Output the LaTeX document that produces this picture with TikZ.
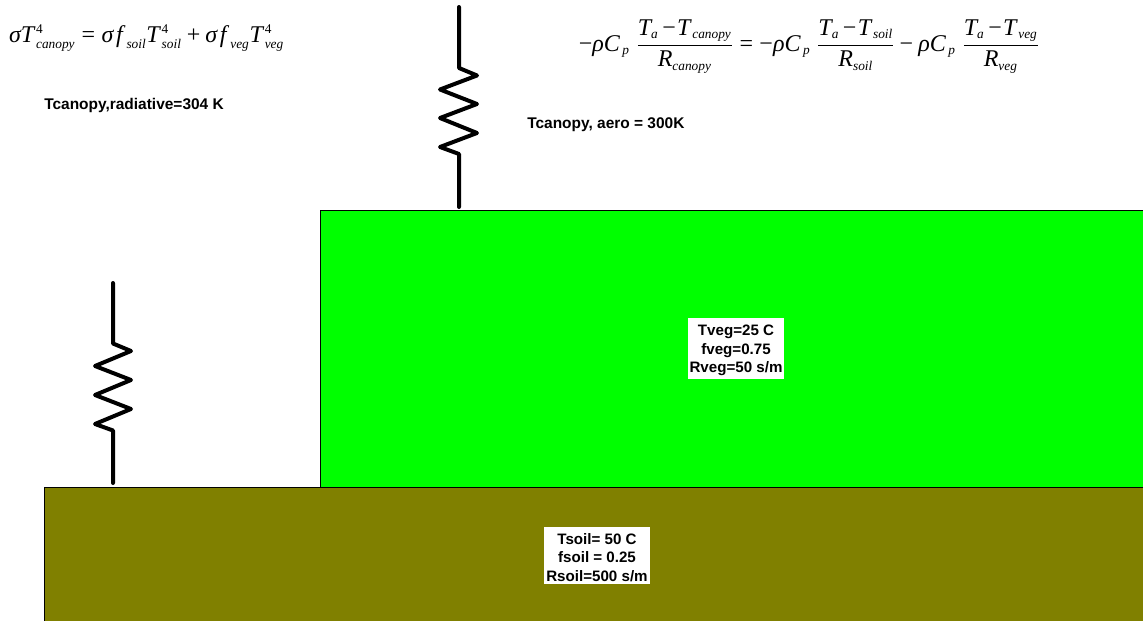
\documentclass[tikz,border=0pt]{standalone}
\usepackage{amsmath}
\usepackage{fontspec}
\setmainfont{Liberation Serif}
\newfontfamily\arialf{Liberation Sans}
\definecolor{soilolive}{RGB}{128,128,0}
\definecolor{veggreen}{RGB}{0,255,0}
\newcommand{\vv}[1]{\mbox{\itshape #1}}
\newcommand{\lo}[1]{\mbox{\fontsize{10}{10}\selectfont\itshape #1}}
\newcommand{\hi}[1]{\mbox{\fontsize{10}{10}\selectfont #1}}
\newcommand{\TT}{{\vv{T}\mkern1.5mu}}
\newcommand{\FF}{{\mkern2mu\vv{f}\mkern3mu}}
\newcommand{\CC}{{\vv{C}\mkern2mu}}
\newcommand{\mn}{\mathbin{\mbox{−}}}
\newcommand{\nm}{\mkern3mu\mbox{−}\mkern1mu}
\newcommand{\eqq}{\mathrel{\mbox{=}}}
\newcommand{\pl}{\mathbin{\mbox{+}}}
\newcommand{\fr}[2]{\mkern5mu\dfrac{#1}{#2}}
\newcommand{\topfix}{\rule{0pt}{11.1pt}}
\tikzset{
  x=0.75pt,y=-0.75pt,
  blocklabel/.style={fill=white,inner xsep=1.5pt,inner ysep=1.75pt,align=center,font=\arialf\bfseries\fontsize{11.35}{14}\selectfont},
  caption/.style={inner sep=0pt,font=\arialf\bfseries\fontsize{11.6}{14}\selectfont},
  formula/.style={inner sep=0pt,font=\fontsize{18}{21}\selectfont},
  block/.style={draw=black,line width=0.5pt,inner sep=0pt,anchor=north west},
  resistor/.style={draw=black,line width=3pt,line cap=round,line join=round}
}
\begin{document}
\begin{tikzpicture}
\useasboundingbox (0,0) rectangle (1143,621);
\node[block,fill=veggreen,minimum width=1000*0.75pt,minimum height=276.5*0.75pt] (veg) at (320,210) {};
\node[block,fill=soilolive,minimum width=1200*0.75pt,minimum height=200*0.75pt] (soil) at (43.7,486.7) {};
\node[blocklabel] (veglabel) at (736,348.5) {\topfix Tveg=25 C\\fveg=0.75\\Rveg=50 s/m};
\node[blocklabel] (soillabel) at (597,555.5) {\topfix Tsoil= 50 C\\fsoil = 0.25\\Rsoil=500 s/m};
\node[caption,anchor=west] (radcap) at (44,106) {Tcanopy,radiative=304 K};
\node[caption,anchor=west] (aerocap) at (527,124.5) {Tcanopy, aero = 300K};
\node[formula] (eqone) at (146.5,38) {$\vv{σ}\TT^{\hi{4}}_{\lo{canopy}}\eqq\vv{σ}\FF_{\lo{soil}}\TT^{\hi{4}}_{\lo{soil}}\pl\vv{σ}\FF_{\lo{veg}}\TT^{\hi{4}}_{\lo{veg}}$};
\node[formula] (eqtwo) at (809,46.5) {$\mn\vv{ρ}\CC_{\lo{p}}\fr{\vv{T}_{\lo{a}}\nm\TT_{\lo{canopy}}}{\vv{R}_{\lo{canopy}}}\eqq\mn\vv{ρ}\CC_{\lo{p}}\fr{\vv{T}_{\lo{a}}\nm\TT_{\lo{soil}}}{\vv{R}_{\lo{soil}}}\mn\vv{ρ}\CC_{\lo{p}}\fr{\vv{T}_{\lo{a}}\nm\TT_{\lo{veg}}}{\vv{R}_{\lo{veg}}}$};
\coordinate (rtop) at (459,7);
\coordinate (rbot) at (459,207);
\coordinate (stop) at (113,283);
\coordinate (sbot) at (113,483);
\draw[resistor] (rtop) -- (459,68) -- (477,75.5) -- (440,89.5) -- (477,104) -- (440,118) -- (477,133) -- (440,147) -- (459,154) -- (rbot);
\draw[resistor] (stop) -- (113,343.5) -- (131,351) -- (95,366) -- (131,380) -- (95,395) -- (131,409) -- (95,424) -- (113,430.5) -- (sbot);
\end{tikzpicture}
\end{document}
